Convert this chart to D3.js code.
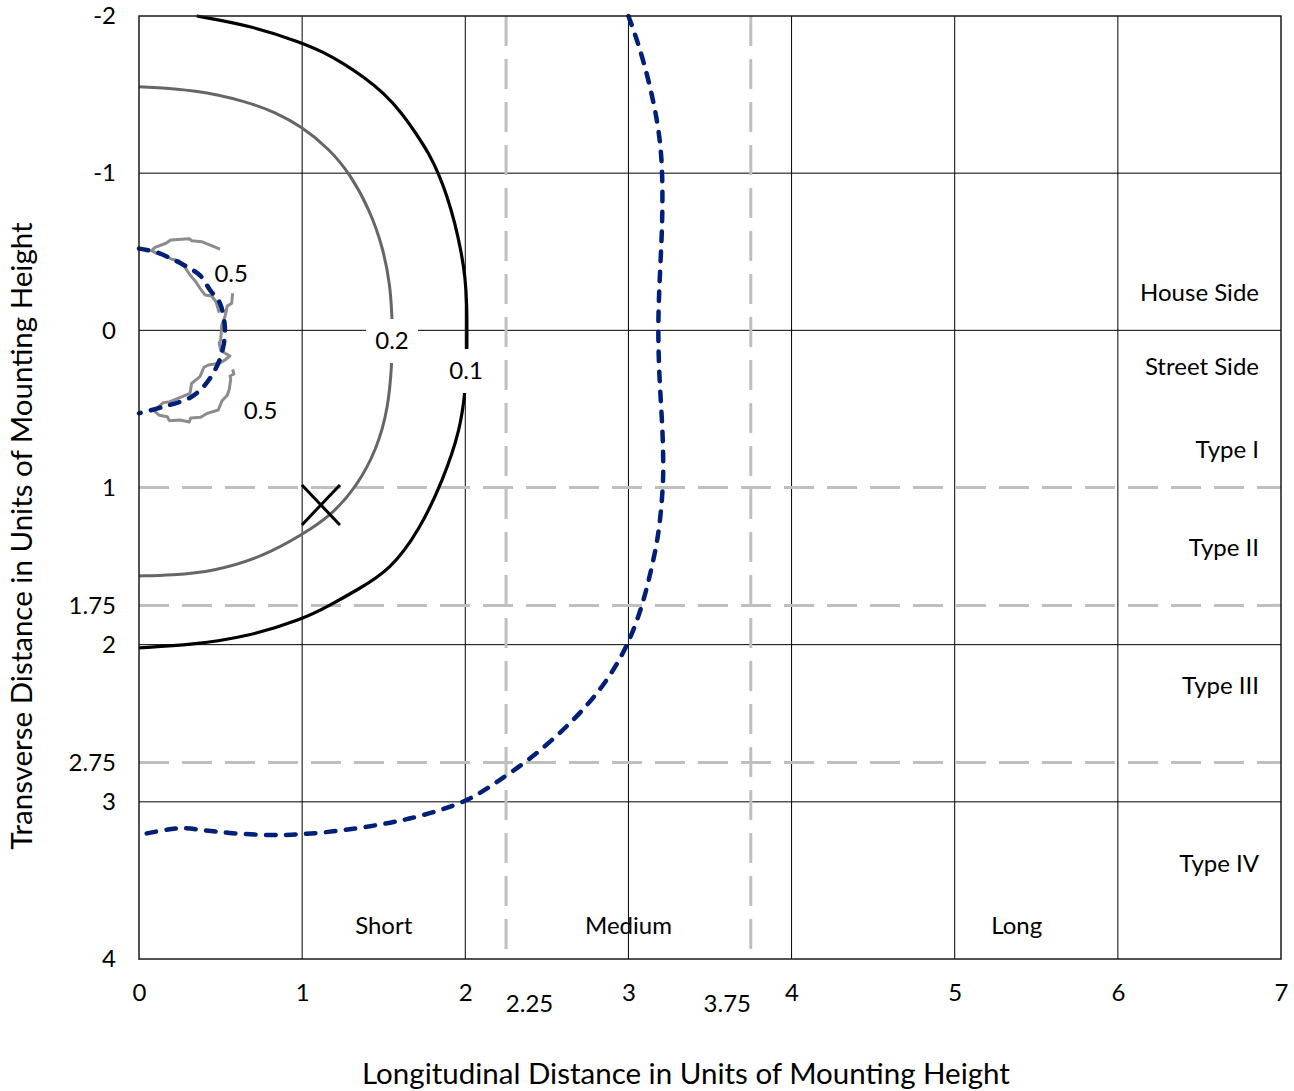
<!DOCTYPE html>
<html>
<head>
<meta charset="utf-8">
<script src="https://cdn.jsdelivr.net/npm/d3@7"></script>
<style>
  body { margin: 0; background: #fff; }
  text { font-family: Lato, "Open Sans", sans-serif; fill: #000; }
</style>
</head>
<body>
<div id="chart"></div>
<script>
// iso-illuminance contours, [longitudinal, transverse] in mounting heights
const contour01 = [[0.354,-2.0],[0.68,-1.94],[1.0,-1.83],[1.13,-1.77],[1.25,-1.70],[1.38,-1.61],[1.50,-1.51],[1.61,-1.385],[1.70,-1.25],[1.78,-1.12],[1.835,-1.0],[1.89,-0.85],[1.937,-0.68],[1.975,-0.5],[2.0,-0.34],[2.01,-0.15],[2.01,0],[2.01,0.2],[2.0,0.38],[1.97,0.63],[1.865,0.95],[1.72,1.27],[1.54,1.525],[1.34,1.65],[1.17,1.75],[1.0,1.84],[0.66,1.95],[0.33,2.0],[0,2.02]];
const contour02 = [[0,-1.55],[0.354,-1.53],[0.66,-1.455],[0.83,-1.39],[1.0,-1.295],[1.17,-1.15],[1.29,-1.0],[1.416,-0.766],[1.50,-0.51],[1.54,-0.28],[1.55,-0.10],[1.555,0.05],[1.55,0.20],[1.53,0.486],[1.457,0.76],[1.334,0.995],[1.17,1.186],[1.0,1.30],[0.762,1.44],[0.455,1.535],[0.2,1.558],[0,1.563]];
const contour05a = [[0.4965,-0.516],[0.384,-0.564],[0.323,-0.570],[0.308,-0.583],[0.194,-0.575],[0.1655,-0.554],[0.098,-0.528],[0.078,-0.507],[0.1085,-0.490],[0.153,-0.479],[0.200,-0.452],[0.247,-0.443],[0.282,-0.401],[0.313,-0.352],[0.343,-0.316],[0.374,-0.2675],[0.4046,-0.225],[0.4456,-0.2185],[0.472,-0.182],[0.492,-0.112]];
const contour05b = [[0.574,-0.236],[0.568,-0.172],[0.541,-0.155],[0.527,-0.087],[0.507,-0.034],[0.501,0.061],[0.492,0.082],[0.501,0.130],[0.558,0.163],[0.527,0.189],[0.492,0.210],[0.425,0.2205],[0.398,0.235],[0.374,0.295],[0.323,0.337],[0.3126,0.4006],[0.190,0.454],[0.149,0.460],[0.092,0.511],[0.1244,0.5406],[0.1735,0.5495],[0.1857,0.575],[0.251,0.5705],[0.308,0.583],[0.317,0.558],[0.378,0.553],[0.419,0.528],[0.486,0.507],[0.509,0.448],[0.541,0.413],[0.5535,0.375],[0.562,0.3115],[0.558,0.2905],[0.582,0.278],[0.574,0.248]];
// half max candela traces (blue dashed)
const halfMaxInner = [[0,-0.52],[0.098,-0.50],[0.21,-0.45],[0.31,-0.395],[0.374,-0.35],[0.435,-0.257],[0.497,-0.17],[0.527,0],[0.507,0.146],[0.466,0.252],[0.394,0.36],[0.31,0.43],[0.15,0.486],[0,0.528]];
const halfMaxOuter = [[3.0,-2.0],[3.06,-1.83],[3.13,-1.57],[3.18,-1.32],[3.205,-1.1],[3.21,-0.85],[3.205,-0.6],[3.19,-0.3],[3.18,0],[3.19,0.32],[3.21,0.63],[3.215,0.89],[3.21,1.02],[3.19,1.27],[3.15,1.48],[3.09,1.74],[3.0,2.0],[2.86,2.25],[2.66,2.49],[2.40,2.73],[2.17,2.89],[2.01,3.0],[1.72,3.095],[1.48,3.147],[1.19,3.19],[1.0,3.207],[0.8,3.215],[0.56,3.20],[0.39,3.18],[0.26,3.162],[0.15,3.18],[0,3.21]];
const maxCandela = [1.115, 1.111];

const xTicks = [0,1,2,3,4,5,6,7];
const xExtraTicks = [2.25, 3.75];
const yTicks = [-2,-1,0,1,1.75,2,2.75,3,4];
const xGrid = [1,2,3,4,5,6];
const yGrid = [-1,0,2,3];
const rangeLines = [2.25, 3.75];     // short / medium / long
const typeLines = [1, 1.75, 2.75];   // type I..IV

const contourLabels = [
  {text: "0.5", x: 0.565, y: -0.36, box: false},
  {text: "0.5", x: 0.745, y: 0.51, box: false},
  {text: "0.2", x: 1.551, y: 0.068, box: true},
  {text: "0.1", x: 2.005, y: 0.259, box: true}
];
const typeLabels = [
  {text: "House Side", y: -0.24},
  {text: "Street Side", y: 0.23},
  {text: "Type I", y: 0.76},
  {text: "Type II", y: 1.385},
  {text: "Type III", y: 2.26},
  {text: "Type IV", y: 3.39}
];
const rangeLabels = [
  {text: "Short", x: 1.5},
  {text: "Medium", x: 3.0},
  {text: "Long", x: 5.38}
];

const W = 1294, H = 1091;
const margin = {top: 16, right: 13, bottom: 132, left: 139};
const width = W - margin.left - margin.right;
const height = H - margin.top - margin.bottom;

const svg = d3.select("#chart").append("svg")
    .attr("width", W).attr("height", H);
const g = svg.append("g")
    .attr("transform", `translate(${margin.left},${margin.top})`);

const x = d3.scaleLinear().domain([0, 7]).range([0, width]);
const y = d3.scaleLinear().domain([-2, 4]).range([0, height]);

// grid
g.selectAll(".vgrid").data(xGrid).enter().append("line")
    .attr("x1", d => x(d)).attr("x2", d => x(d))
    .attr("y1", 0).attr("y2", height)
    .attr("stroke", "#000").attr("stroke-width", 1);
g.selectAll(".hgrid").data(yGrid).enter().append("line")
    .attr("x1", 0).attr("x2", width)
    .attr("y1", d => y(d)).attr("y2", d => y(d))
    .attr("stroke", "#000").attr("stroke-width", 1);

// dashed classification lines
g.selectAll(".vrange").data(rangeLines).enter().append("line")
    .attr("x1", d => x(d)).attr("x2", d => x(d))
    .attr("y1", 0).attr("y2", height)
    .attr("stroke", "#bfbfbf").attr("stroke-width", 3)
    .attr("stroke-dasharray", "30,13");
g.selectAll(".htype").data(typeLines).enter().append("line")
    .attr("x1", 0).attr("x2", width)
    .attr("y1", d => y(d)).attr("y2", d => y(d))
    .attr("stroke", "#bfbfbf").attr("stroke-width", 3)
    .attr("stroke-dasharray", "30,13");

const smooth = d3.line().x(d => x(d[0])).y(d => y(d[1])).curve(d3.curveBasis);
const catmull = d3.line().x(d => x(d[0])).y(d => y(d[1])).curve(d3.curveCatmullRom);
const jagged = d3.line().x(d => x(d[0])).y(d => y(d[1]));

g.append("path").attr("d", smooth(contour01))
    .attr("fill", "none").attr("stroke", "#000").attr("stroke-width", 3.2);
g.append("path").attr("d", smooth(contour02))
    .attr("fill", "none").attr("stroke", "#666").attr("stroke-width", 3);
[contour05a, contour05b].forEach(c => {
  g.append("path").attr("d", jagged(c))
      .attr("fill", "none").attr("stroke", "#8c8c8c").attr("stroke-width", 3)
      .attr("stroke-linejoin", "round");
});
g.append("path").attr("d", catmull(halfMaxInner))
    .attr("fill", "none").attr("stroke", "#001f78").attr("stroke-width", 4.5)
    .attr("stroke-linecap", "round")
    .attr("stroke-dasharray", "9.5,10.5");
g.append("path").attr("d", smooth(halfMaxOuter))
    .attr("fill", "none").attr("stroke", "#001f78").attr("stroke-width", 4.5)
    .attr("stroke-linecap", "round")
    .attr("stroke-dasharray", "9.5,10.5");

// contour labels
const cl = g.selectAll(".clabel").data(contourLabels).enter().append("g")
    .attr("transform", d => `translate(${x(d.x)},${y(d.y)})`);
cl.filter(d => d.box).append("rect")
    .attr("x", -26).attr("y", -22).attr("width", 52).attr("height", 44)
    .attr("fill", "#fff");
cl.append("text")
    .attr("text-anchor", "middle").attr("dy", "0.35em")
    .style("font-size", "24px")
    .text(d => d.text);

// max candela point
const mc = g.append("g")
    .attr("transform", `translate(${x(maxCandela[0])},${y(maxCandela[1])})`);
mc.append("line").attr("x1", -19).attr("y1", -20).attr("x2", 19).attr("y2", 20)
    .attr("stroke", "#000").attr("stroke-width", 3);
mc.append("line").attr("x1", 19).attr("y1", -20).attr("x2", -19).attr("y2", 20)
    .attr("stroke", "#000").attr("stroke-width", 3);

// region labels
g.selectAll(".tlabel").data(typeLabels).enter().append("text")
    .attr("x", width - 22).attr("y", d => y(d.y))
    .attr("dy", "0.35em").attr("text-anchor", "end")
    .style("font-size", "24px")
    .text(d => d.text);
g.selectAll(".rlabel").data(rangeLabels).enter().append("text")
    .attr("x", d => x(d.x)).attr("y", height - 33)
    .attr("dy", "0.35em").attr("text-anchor", "middle")
    .style("font-size", "24px")
    .text(d => d.text);

// border
g.append("rect").attr("width", width).attr("height", height)
    .attr("fill", "none").attr("stroke", "#1a1a1a").attr("stroke-width", 1.5);

// axes
const yAxis = g.append("g")
    .call(d3.axisLeft(y).tickValues(yTicks).tickSize(0).tickPadding(23).tickFormat(d => d));
const xAxis = g.append("g")
    .attr("transform", `translate(0,${height})`)
    .call(d3.axisBottom(x).tickValues(xTicks).tickSize(0).tickPadding(25).tickFormat(d => d));
const xAxis2 = g.append("g")
    .attr("transform", `translate(0,${height})`)
    .call(d3.axisBottom(x).tickValues(xExtraTicks).tickSize(0).tickPadding(36).tickFormat(d => d));
xAxis2.selectAll(".tick text").attr("dx", d => d < 3 ? 23 : -24);
[yAxis, xAxis, xAxis2].forEach(a => {
  a.select(".domain").remove();
  a.selectAll(".tick text").style("font-size", "24px").style("font-family", "Lato, 'Open Sans', sans-serif").attr("fill", "#000");
});

// axis titles
svg.append("text")
    .attr("transform", `translate(22,536) rotate(-90)`)
    .attr("text-anchor", "middle").attr("dy", "0.35em")
    .style("font-size", "29.5px")
    .text("Transverse Distance in Units of Mounting Height");
svg.append("text")
    .attr("x", 686).attr("y", 1074)
    .attr("text-anchor", "middle").attr("dy", "0.35em")
    .style("font-size", "29.5px")
    .text("Longitudinal Distance in Units of Mounting Height");
</script>
</body>
</html>
